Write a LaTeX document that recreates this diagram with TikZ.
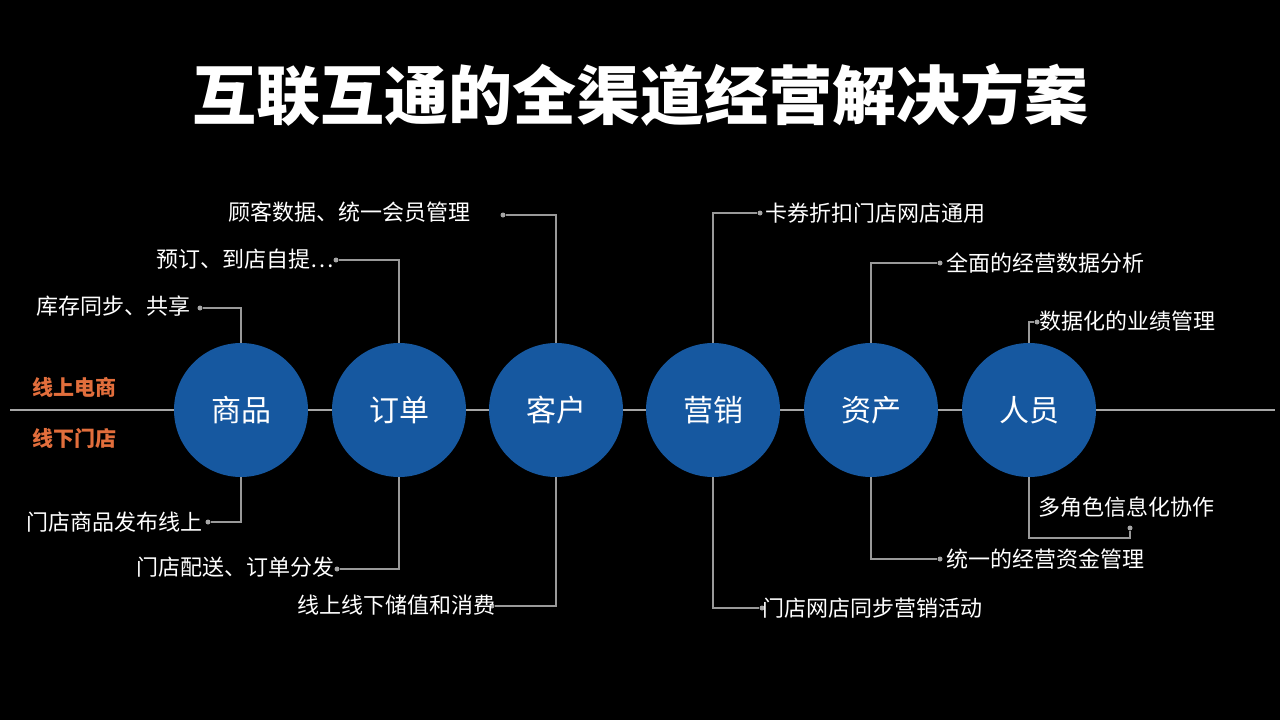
\documentclass[tikz,border=0pt]{standalone}
\usepackage{fontspec}
\setmainfont{Noto Sans CJK SC}
\begin{document}
\begin{tikzpicture}[x=1pt,y=-1pt,
  circ/.style={circle,fill=blue1,minimum size=134pt,inner sep=0pt,text=white,font=\fontsize{30}{32}\selectfont},
  conn/.style={draw=gray!80,line width=1.2pt},
  dotc/.style={circle,fill=gray!70,inner sep=0pt,minimum size=5pt},
  lbl/.style={text=white,font=\fontsize{22}{24}\selectfont,inner sep=0pt},
  org/.style={text=orange1,font=\fontsize{21}{23}\selectfont\bfseries,inner sep=0pt}]
\definecolor{blue1}{RGB}{22,88,160}
\definecolor{orange1}{RGB}{226,110,60}
\fill[black] (0,0) rectangle (1280,720);
\useasboundingbox (0,0) rectangle (1280,720);
\node[text=white,font=\fontsize{64}{68}\selectfont\bfseries] (title) at (640,95) {互联互通的全渠道经营解决方案};
\coordinate (L) at (10,410); \coordinate (R) at (1275,410);
\draw[gray!70,line width=2pt] (L) -- (R);
\node[org,anchor=west] (on) at (32,387) {线上电商};
\node[org,anchor=west] (off) at (32,438) {线下门店};
\foreach \n/\x/\t in {a/241/商品,b/399/订单,c/556/客户,d/713/营销,e/871/资产,f/1029/人员}
  \node[circ] (\n) at (\x,410) {\t};
% top connectors
\node[dotc] (ta) at (200,308) {}; \draw[conn] (a.north) |- (ta);
\node[lbl,anchor=east] at (191,306) {库存同步、共享};
\node[dotc] (tb) at (336,260) {}; \draw[conn] (b.north) |- (tb);
\node[lbl,anchor=east] at (334,259) {预订、到店自提…};
\node[dotc] (tc) at (503,215) {}; \draw[conn] (c.north) |- (tc);
\node[lbl,anchor=east] at (471,212) {顾客数据、统一会员管理};
\node[dotc] (td) at (760,213) {}; \draw[conn] (d.north) |- (td);
\node[lbl,anchor=west] at (765,213) {卡券折扣门店网店通用};
\node[dotc] (te) at (940,263) {}; \draw[conn] (e.north) |- (te);
\node[lbl,anchor=west] at (946,263) {全面的经营数据分析};
\node[dotc] (tf) at (1037,322) {}; \draw[conn] (f.north) |- (tf);
\node[lbl,anchor=west] at (1039,321) {数据化的业绩管理};
% bottom connectors
\node[dotc] (ba) at (208,522) {}; \draw[conn] (a.south) |- (ba);
\node[lbl,anchor=east] at (203,522) {门店商品发布线上};
\node[dotc] (bb) at (337,569) {}; \draw[conn] (b.south) |- (bb);
\node[lbl,anchor=east] at (335,567) {门店配送、订单分发};
\node[dotc] (bc) at (492,606) {}; \draw[conn] (c.south) |- (bc);
\node[lbl,anchor=east] at (496,605) {线上线下储值和消费};
\node[dotc] (bd) at (762,608) {}; \draw[conn] (d.south) |- (bd);
\node[lbl,anchor=west] at (762,608) {门店网店同步营销活动};
\node[dotc] (be) at (940,559) {}; \draw[conn] (e.south) |- (be);
\node[lbl,anchor=west] at (946,559) {统一的经营资金管理};
\coordinate (bf1) at (1130,538);
\node[dotc] (bf) at (1130,528) {}; \draw[conn] (f.south) |- (bf1) -- (bf);
\node[lbl,anchor=west] at (1038,507) {多角色信息化协作};
\end{tikzpicture}
\end{document}
